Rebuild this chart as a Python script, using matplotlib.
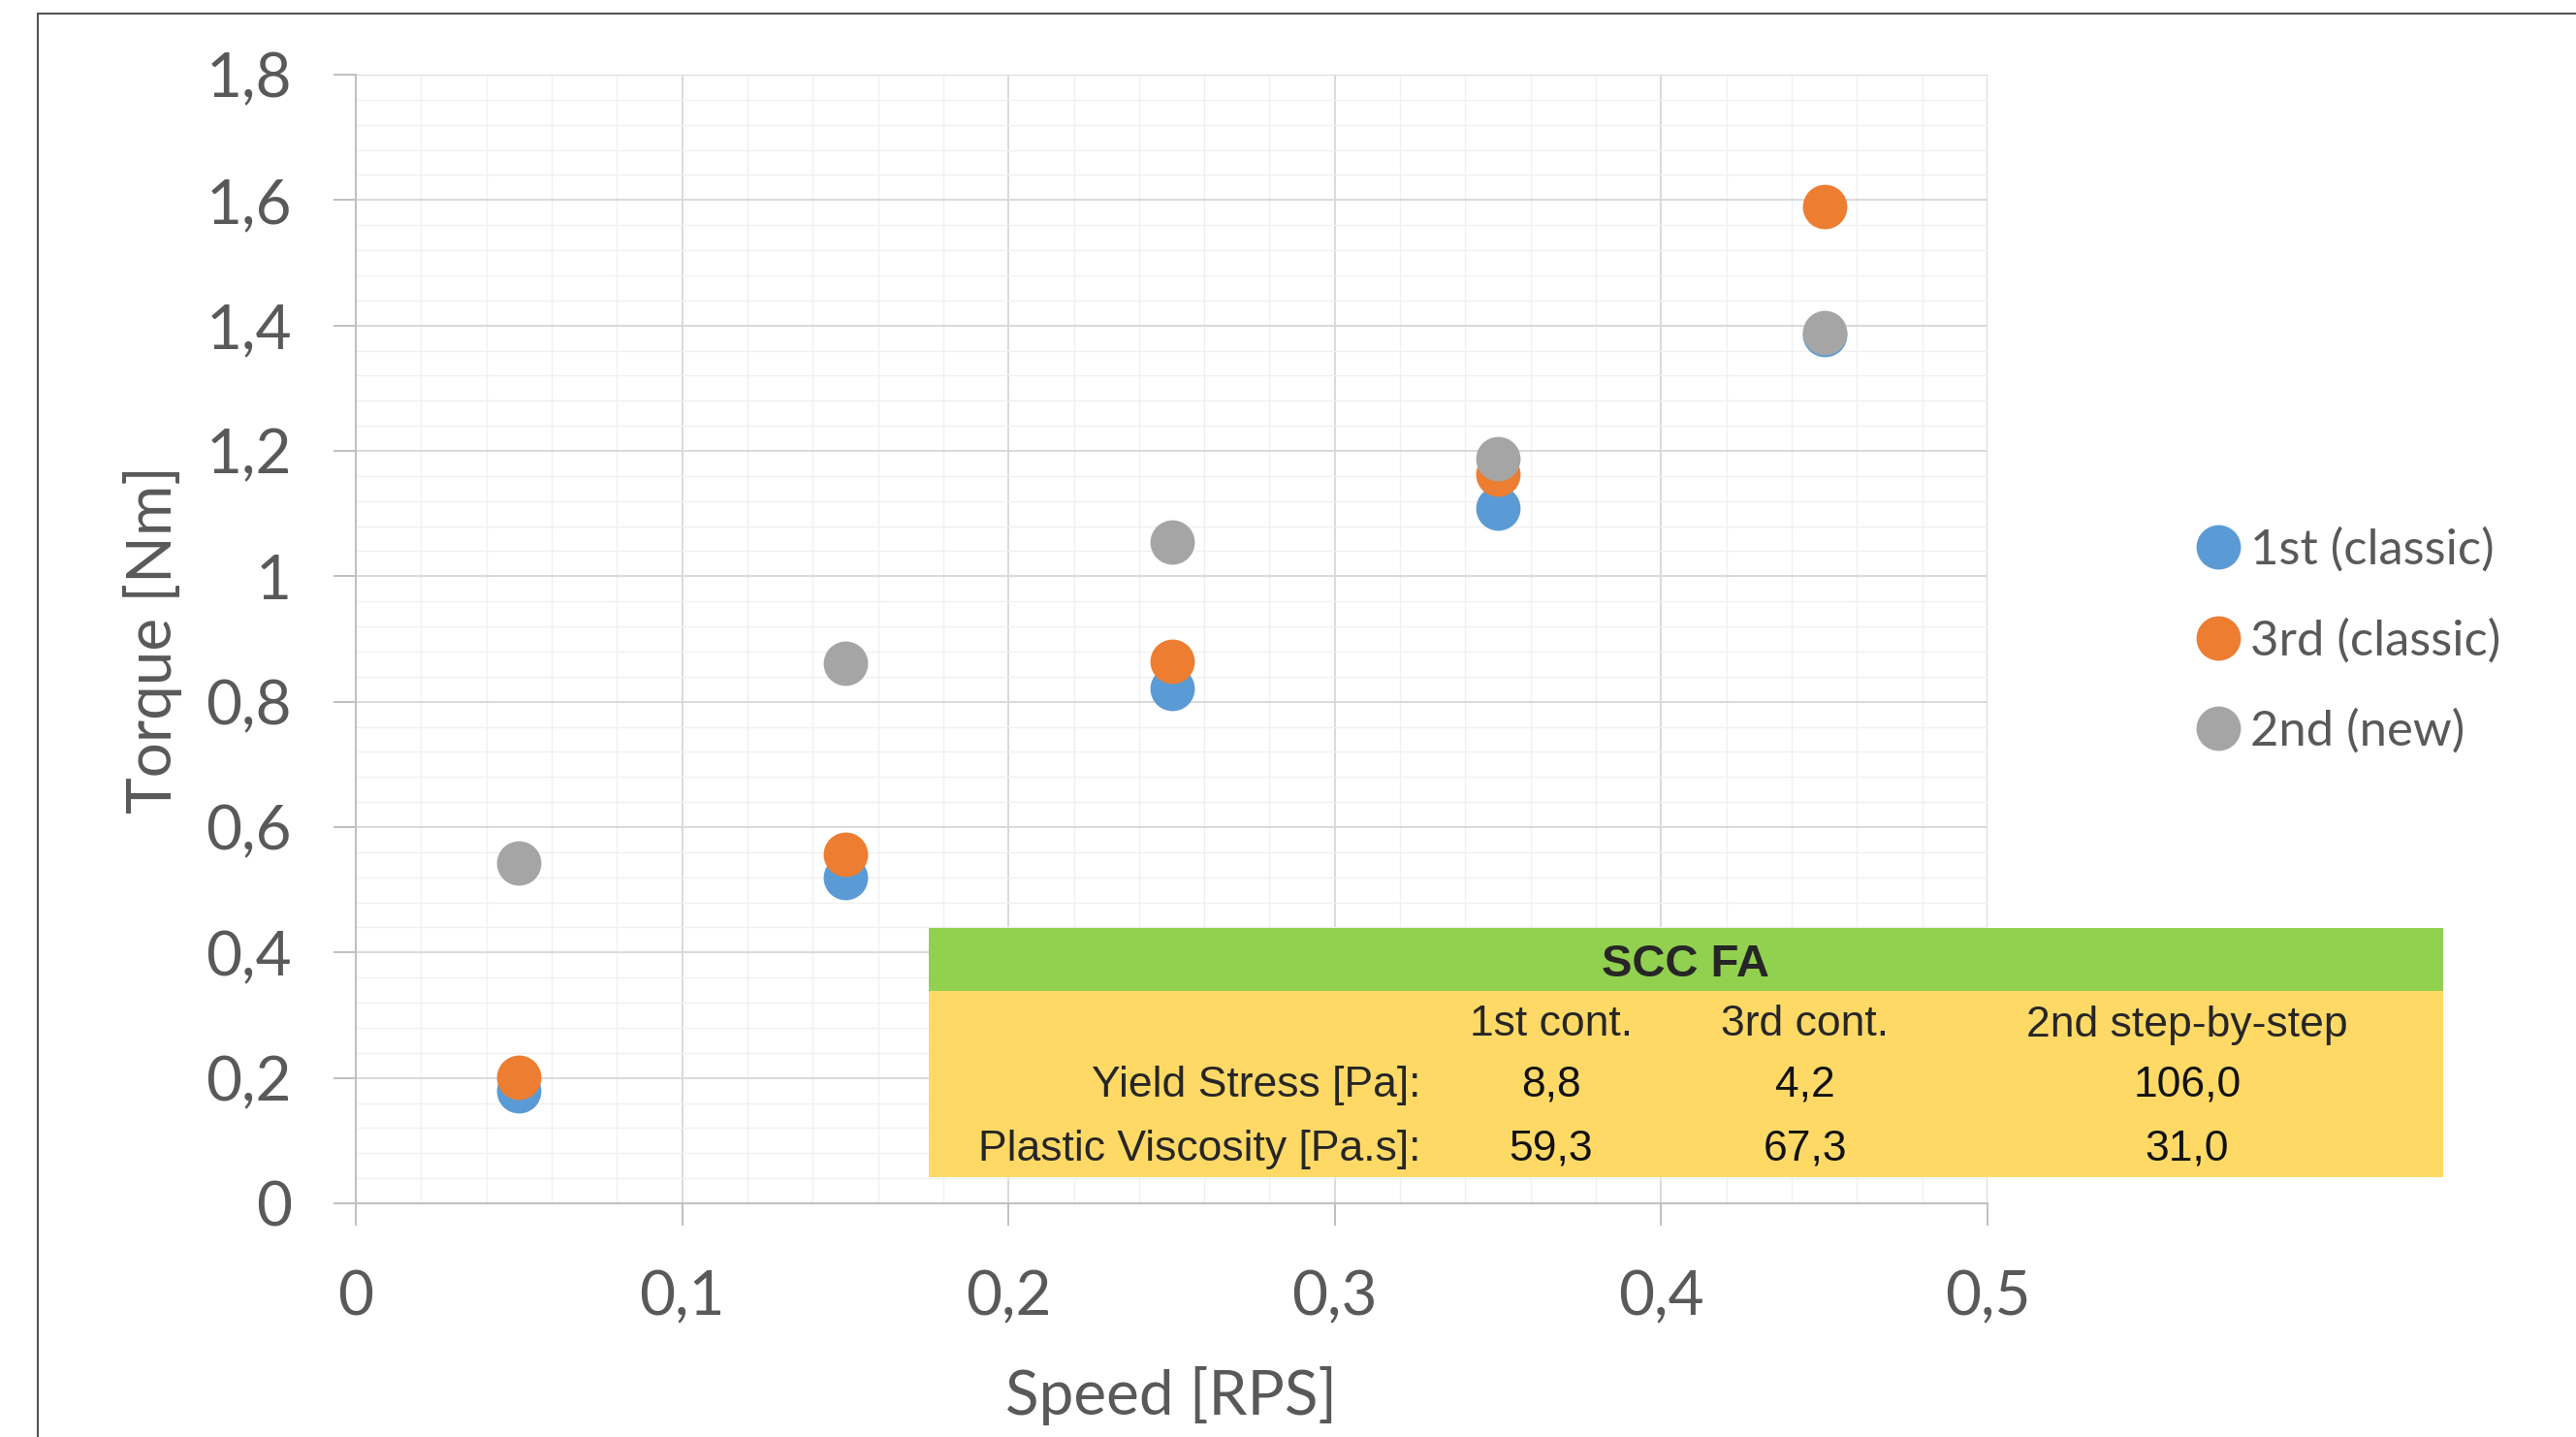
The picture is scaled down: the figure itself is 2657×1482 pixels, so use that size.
import numpy as np
import matplotlib
matplotlib.use('Agg')
import matplotlib.pyplot as plt
from matplotlib.patches import Rectangle
from matplotlib.lines import Line2D
from matplotlib.ticker import MultipleLocator, FuncFormatter

# Данные
speed = [0.05, 0.15, 0.25, 0.35, 0.45]
torque_1st = [0.180, 0.519, 0.821, 1.109, 1.385]
torque_3rd = [0.201, 0.557, 0.865, 1.163, 1.589]
torque_2nd = [0.543, 0.862, 1.055, 1.188, 1.389]
series_names = ['1st (classic)', '3rd (classic)', '2nd (new)']
series_colors = ['#5B9BD5', '#ED7D31', '#A5A5A5']

# Таблица
table_title = 'SCC FA'
col_headers = ['1st cont.', '3rd cont.', '2nd step-by-step']
row_labels = ['Yield Stress [Pa]:', 'Plastic Viscosity [Pa.s]:']
yield_stress = ['8,8', '4,2', '106,0']
plastic_visc = ['59,3', '67,3', '31,0']

W, H = 2657, 1482
def fx(px):
    return px / W
def fy(py):
    return 1 - py / H

txt_color = '#595959'
font_main = ['Lato', 'DejaVu Sans']
font_tab = ['Liberation Sans', 'DejaVu Sans']

fig = plt.figure(figsize=(W / 100, H / 100), dpi=100)
ax = fig.add_axes([fx(367), fy(1241), fx(2050) - fx(367), fy(77) - fy(1241)])

for ys, name, c in zip([torque_1st, torque_3rd, torque_2nd], series_names, series_colors):
    ax.plot(speed, ys, linestyle='none', marker='o', markersize=33,
            markerfacecolor=c, markeredgewidth=0, label=name, zorder=3)

ax.set_xlim(0, 0.5)
ax.set_ylim(0, 1.8)
ax.xaxis.set_major_locator(MultipleLocator(0.1))
ax.xaxis.set_minor_locator(MultipleLocator(0.02))
ax.yaxis.set_major_locator(MultipleLocator(0.2))
ax.yaxis.set_minor_locator(MultipleLocator(0.04))

comma = FuncFormatter(lambda v, p: ('%g' % round(v, 2)).replace('.', ','))
ax.xaxis.set_major_formatter(comma)
ax.yaxis.set_major_formatter(comma)

ax.grid(True, which='major', color='#d9d9d9', lw=1.4, zorder=0)
ax.grid(True, which='minor', color='#f0f0f0', lw=1.0, zorder=0)
ax.set_axisbelow(True)

for s in ['top', 'right']:
    ax.spines[s].set_visible(False)
for s in ['left', 'bottom']:
    ax.spines[s].set_color('#bfbfbf')
    ax.spines[s].set_linewidth(1.4)

ax.tick_params(which='major', length=16.5, width=1.4, color='#bfbfbf',
               labelcolor=txt_color, labelsize=46)
ax.tick_params(axis='y', pad=31)
ax.tick_params(axis='x', pad=33)
ax.tick_params(which='minor', length=0)
for lab in ax.get_xticklabels() + ax.get_yticklabels():
    lab.set_family(font_main)

fig.text(fx(1208), fy(1439), 'Speed [RPS]', ha='center', va='center',
         fontsize=46, color=txt_color, family=font_main)
fig.text(fx(157), fy(660), 'Torque [Nm]', ha='center', va='center', rotation=90,
         fontsize=46, color=txt_color, family=font_main)

# Легенда
handles = [Line2D([], [], linestyle='none', marker='o', markersize=33,
                  markerfacecolor=c, markeredgewidth=0) for c in series_colors]
leg = fig.legend(handles, series_names, loc='center left',
                 bbox_to_anchor=(fx(2264), fy(661)), bbox_transform=fig.transFigure,
                 frameon=False, borderpad=0, borderaxespad=0, handlelength=0.95,
                 handletextpad=0.18, labelspacing=0.93,
                 prop={'family': font_main, 'size': 36.5})
for t in leg.get_texts():
    t.set_color(txt_color)

# Таблица поверх графика
fig.add_artist(Rectangle((fx(958), fy(1022)), fx(2520) - fx(958), fy(957) - fy(1022),
                         transform=fig.transFigure, facecolor='#92D050', edgecolor='none', zorder=5))
fig.add_artist(Rectangle((fx(958), fy(1214)), fx(2520) - fx(958), fy(1022) - fy(1214),
                         transform=fig.transFigure, facecolor='#FFD966', edgecolor='none', zorder=5))

fig.text(fx(1738), fy(995), table_title, ha='center', va='center', fontsize=34,
         fontweight='bold', color='#262626', family=font_tab, zorder=6)

col_x = [1600, 1862, 2256]
for cx, h in zip(col_x, col_headers):
    fig.text(fx(cx), fy(1057), h, ha='center', va='center', fontsize=32,
             color='#262626', family=font_tab, zorder=6)

row_y = [1119, 1185]
for ry, lab, vals in zip(row_y, row_labels, [yield_stress, plastic_visc]):
    fig.text(fx(1466), fy(ry), lab, ha='right', va='center', fontsize=32,
             color='#262626', family=font_tab, zorder=6)
    for cx, v in zip(col_x, vals):
        fig.text(fx(cx), fy(ry), v, ha='center', va='center', fontsize=32,
                 color='#111111', family=font_tab, zorder=6)

# Рамка вокруг графика
fig.add_artist(Rectangle((fx(39), -0.1), 1.2, fy(14) + 0.1, transform=fig.transFigure,
                         facecolor='none', edgecolor='#555555', lw=1.5, zorder=7))

plt.savefig('out.png', dpi=100)
plt.close()
